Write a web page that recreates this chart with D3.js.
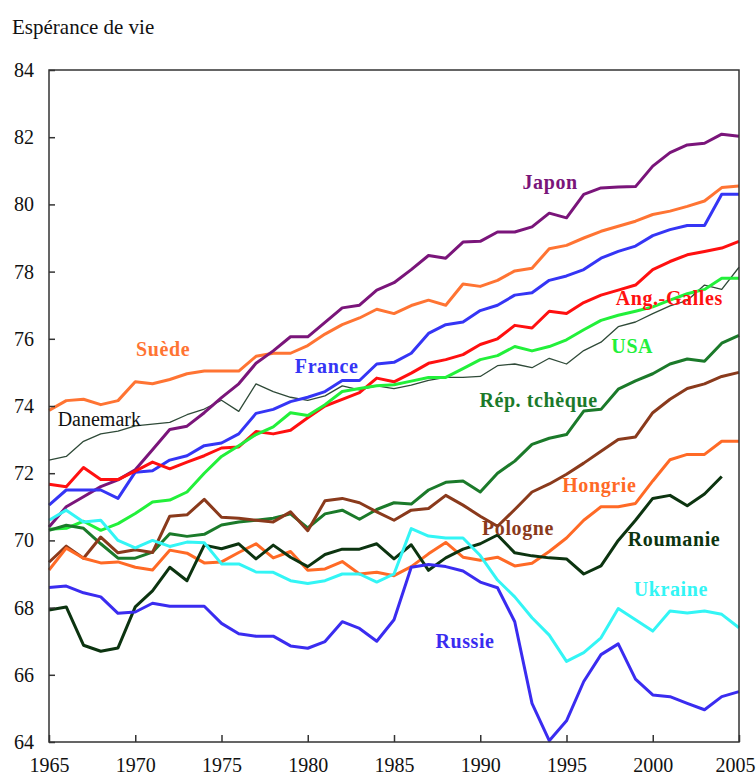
<!DOCTYPE html>
<html>
<head>
<meta charset="utf-8">
<script src="https://cdn.jsdelivr.net/npm/d3@7"></script>
<style>
  body { margin: 0; background: #fff; }
  svg text { font-family: "Liberation Serif", "Times New Roman", serif; }
</style>
</head>
<body>
<div id="chart"></div>
<script>
// years on the x axis
var years = d3.range(1965, 2006);
var yTicks = [64, 66, 68, 70, 72, 74, 76, 78, 80, 82, 84];
var xTicks = [1965, 1970, 1975, 1980, 1985, 1990, 1995, 2000, 2005];

// life expectancy per country, 1965..2005
var japon = [70.4,71.0,71.3,71.6,71.8,72.1,72.7,73.3,73.4,73.8,74.25,74.66,75.27,75.64,76.06,76.06,76.49,76.92,77.0,77.45,77.67,78.06,78.48,78.4,78.88,78.9,79.18,79.18,79.33,79.74,79.6,80.3,80.49,80.52,80.53,81.14,81.54,81.77,81.82,82.09,82.03];
var suede = [73.87,74.16,74.2,74.04,74.16,74.72,74.66,74.79,74.96,75.04,75.04,75.04,75.48,75.57,75.57,75.8,76.14,76.42,76.62,76.88,76.75,76.99,77.15,77.0,77.63,77.56,77.74,78.02,78.1,78.68,78.78,79.0,79.2,79.35,79.5,79.7,79.8,79.94,80.1,80.5,80.55];
var france = [71.05,71.5,71.5,71.5,71.25,72.03,72.07,72.39,72.52,72.82,72.9,73.17,73.78,73.9,74.13,74.26,74.43,74.76,74.76,75.25,75.3,75.57,76.16,76.42,76.5,76.84,77.0,77.3,77.37,77.74,77.87,78.06,78.4,78.6,78.76,79.07,79.25,79.37,79.37,80.3,80.3];
var angGalles = [71.67,71.6,72.17,71.81,71.81,72.06,72.33,72.13,72.33,72.52,72.75,72.78,73.24,73.17,73.28,73.65,74.0,74.2,74.4,74.83,74.72,74.98,75.27,75.38,75.53,75.83,76.0,76.4,76.32,76.82,76.75,77.08,77.3,77.45,77.6,78.06,78.3,78.5,78.6,78.7,78.9];
var usa = [70.33,70.36,70.57,70.3,70.5,70.8,71.14,71.2,71.44,72.0,72.5,72.82,73.15,73.38,73.8,73.72,74.04,74.43,74.52,74.6,74.63,74.74,74.85,74.85,75.11,75.38,75.5,75.77,75.64,75.77,75.97,76.27,76.55,76.7,76.82,76.95,77.15,77.34,77.47,77.8,77.8];
var danemark = [72.39,72.5,72.95,73.17,73.25,73.41,73.46,73.51,73.74,73.91,74.17,73.84,74.66,74.43,74.26,74.17,74.3,74.6,74.48,74.6,74.52,74.62,74.76,74.85,74.85,74.88,75.2,75.25,75.14,75.42,75.25,75.65,75.9,76.36,76.5,76.75,76.98,77.14,77.6,77.47,78.13];
var repTcheque = [70.3,70.45,70.36,69.9,69.47,69.47,69.65,70.2,70.12,70.18,70.46,70.55,70.6,70.66,70.79,70.37,70.79,70.9,70.63,70.92,71.12,71.08,71.5,71.73,71.77,71.44,72.0,72.36,72.86,73.04,73.15,73.85,73.9,74.5,74.75,74.96,75.25,75.4,75.33,75.87,76.1];
var pologne = [69.35,69.83,69.47,70.1,69.63,69.72,69.64,70.72,70.76,71.22,70.69,70.66,70.6,70.55,70.85,70.29,71.18,71.25,71.12,70.85,70.6,70.9,70.95,71.34,71.05,70.72,70.42,70.92,71.44,71.68,71.97,72.3,72.65,73.0,73.08,73.8,74.2,74.52,74.66,74.88,75.0];
var hongrie = [69.12,69.77,69.47,69.33,69.36,69.2,69.12,69.71,69.62,69.33,69.36,69.64,69.9,69.48,69.67,69.11,69.15,69.37,69.0,69.05,68.95,69.22,69.6,69.94,69.5,69.41,69.5,69.24,69.32,69.67,70.07,70.6,71.0,71.0,71.1,71.77,72.4,72.56,72.56,72.95,72.95];
var roumanie = [67.93,68.02,66.88,66.7,66.8,68.02,68.5,69.2,68.8,69.86,69.75,69.9,69.45,69.86,69.5,69.22,69.58,69.74,69.74,69.9,69.45,69.87,69.11,69.48,69.74,69.9,70.16,69.63,69.54,69.48,69.45,69.0,69.24,70.0,70.6,71.25,71.34,71.03,71.38,71.9,null];
var ukraine = [70.6,70.9,70.55,70.6,70.0,69.78,70.0,69.82,69.95,69.93,69.3,69.3,69.06,69.05,68.8,68.72,68.8,69.0,69.0,68.76,69.0,70.35,70.13,70.07,70.07,69.55,68.82,68.32,67.7,67.18,66.4,66.66,67.1,67.97,67.64,67.3,67.9,67.84,67.9,67.8,67.4];
var russie = [68.6,68.64,68.44,68.32,67.83,67.87,68.13,68.04,68.04,68.04,67.53,67.22,67.15,67.15,66.86,66.79,66.99,67.58,67.38,67.0,67.64,69.2,69.28,69.22,69.09,68.76,68.59,67.58,65.15,64.04,64.63,65.8,66.6,66.92,65.87,65.4,65.35,65.15,64.96,65.35,65.5];

var series = [
  {name: "Danemark", values: danemark, color: "#2f4a38", width: 1.3, bold: false, lx: 1965.5, ly: 73.4, lc: "#111"},
  {name: "Suède", values: suede, color: "#ff7433", width: 3, bold: true, lx: 1970.05, ly: 75.5},
  {name: "Japon", values: japon, color: "#7a157a", width: 3, bold: true, lx: 1992.45, ly: 80.46},
  {name: "France", values: france, color: "#3535f5", width: 3, bold: true, lx: 1979.25, ly: 74.98},
  {name: "Ang.-Galles", values: angGalles, color: "#ff1010", width: 3, bold: true, lx: 1997.85, ly: 77.0},
  {name: "USA", values: usa, color: "#22f03a", width: 3, bold: true, lx: 1997.6, ly: 75.58},
  {name: "Rép. tchèque", values: repTcheque, color: "#1b7a2a", width: 3, bold: true, lx: 1989.95, ly: 73.97},
  {name: "Pologne", values: pologne, color: "#8a3a1c", width: 3, bold: true, lx: 1990.1, ly: 70.16},
  {name: "Hongrie", values: hongrie, color: "#ff6a26", width: 3, bold: true, lx: 1994.75, ly: 71.44},
  {name: "Roumanie", values: roumanie, color: "#0c3410", width: 3, bold: true, lx: 1998.55, ly: 69.83},
  {name: "Ukraine", values: ukraine, color: "#33f5f5", width: 3, bold: true, lx: 1998.9, ly: 68.35},
  {name: "Russie", values: russie, color: "#3a2cf0", width: 3, bold: true, lx: 1987.4, ly: 66.8}
];

var W = 756, H = 778;
var margin = {top: 70, right: 17, bottom: 36, left: 49};
var width = W - margin.left - margin.right,
    height = H - margin.top - margin.bottom;

var svg = d3.select("#chart").append("svg")
    .attr("width", W)
    .attr("height", H);

var g = svg.append("g")
    .attr("transform", "translate(" + margin.left + "," + margin.top + ")");

var x = d3.scaleLinear().domain([1965, 2005]).range([0, width]);
var y = d3.scaleLinear().domain([64, 84]).range([height, 0]);

// title
svg.append("text")
    .attr("x", 12)
    .attr("y", 34)
    .style("font-size", "21px")
    .style("fill", "#111")
    .text("Espérance de vie");

// lines
var line = d3.line()
    .defined(function(d) { return d != null; })
    .x(function(d, i) { return x(years[i]); })
    .y(function(d) { return y(d); });

g.append("g").selectAll("path")
    .data(series)
    .enter().append("path")
    .attr("fill", "none")
    .attr("stroke", function(d) { return d.color; })
    .attr("stroke-width", function(d) { return d.width; })
    .attr("stroke-linejoin", "round")
    .attr("d", function(d) { return line(d.values); });

// frame
g.append("rect")
    .attr("width", width)
    .attr("height", height)
    .attr("fill", "none")
    .attr("stroke", "#333")
    .attr("stroke-width", 1.5);

// axes (ticks pointing inward)
var yAxis = g.append("g")
    .call(d3.axisLeft(y).tickValues(yTicks).tickSize(-6).tickPadding(15).tickFormat(d3.format("d")));
var xAxis = g.append("g")
    .attr("transform", "translate(0," + height + ")")
    .call(d3.axisBottom(x).tickValues(xTicks).tickSize(-7).tickPadding(16).tickFormat(d3.format("d")));

[yAxis, xAxis].forEach(function(a) {
  a.select(".domain").remove();
  a.selectAll(".tick line").attr("stroke", "#333").attr("stroke-width", 1.5);
  a.selectAll(".tick text")
    .style("font-family", "'Liberation Serif', 'Times New Roman', serif")
    .style("font-size", "20px")
    .attr("fill", "#111");
});
// keep the last year label inside the picture
xAxis.selectAll(".tick text").filter(function(d) { return d === 2005; }).attr("dx", -4);

// country labels
g.append("g").selectAll("text")
    .data(series)
    .enter().append("text")
    .attr("x", function(d) { return x(d.lx); })
    .attr("y", function(d) { return y(d.ly); })
    .style("font-size", "20px")
    .style("font-weight", function(d) { return d.bold ? "bold" : "normal"; })
    .style("letter-spacing", function(d) { return d.bold ? "0.6px" : "0px"; })
    .attr("fill", function(d) { return d.lc || d.color; })
    .text(function(d) { return d.name; });
</script>
</body>
</html>
